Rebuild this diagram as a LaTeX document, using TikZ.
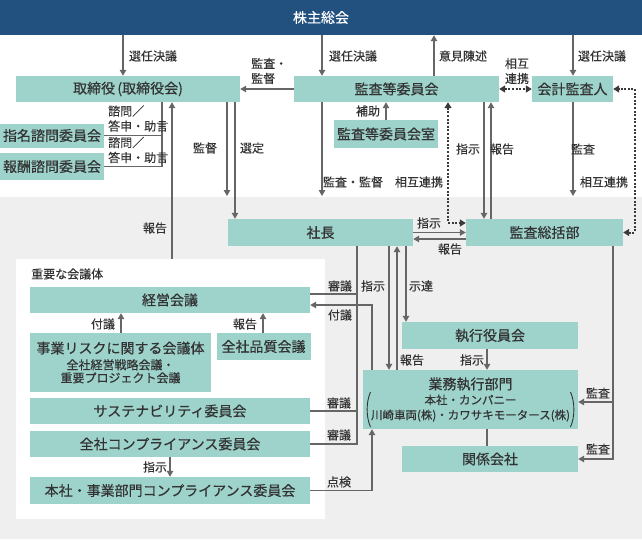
\documentclass[tikz,border=0pt]{standalone}
\usepackage{fontspec}
\setmainfont{Noto Sans CJK JP}
\newfontfamily\boxjp[FakeBold=0.5]{Noto Sans CJK JP}
\newfontfamily\lbljp[FakeBold=0.2]{Noto Sans CJK JP}
\usetikzlibrary{arrows.meta}
\definecolor{teal1}{HTML}{9DD3CB}
\definecolor{navy1}{HTML}{22507F}
\definecolor{bg1}{HTML}{EFEFEF}
\definecolor{ln1}{HTML}{666666}
\definecolor{tx1}{HTML}{333333}
\definecolor{dt1}{HTML}{3A3A3A}
\begin{document}
\begin{tikzpicture}[x=1pt,y=-1pt,
  box/.style={fill=teal1, inner sep=0pt, text=tx1, font=\boxjp\fontsize{14}{17}\selectfont, align=center},
  lbl/.style={inner sep=0pt, text=tx1, font=\lbljp\fontsize{12}{15}\selectfont, align=center},
  con/.style={draw=ln1, line width=1.2pt},
  tip/.style={-{Triangle[width=6.5pt,length=6pt]}},
  arr/.style={con, tip},
  dotl/.style={draw=dt1, line width=2pt, dash pattern=on 2pt off 1.6pt,
     {Triangle[width=7pt,length=6pt]}-{Triangle[width=7pt,length=6pt]}},
  dotr/.style={draw=dt1, line width=2pt, dash pattern=on 2pt off 1.6pt}
  ]
\useasboundingbox (0,0) rectangle (642,539);
% backgrounds
\fill[bg1] (0,197) rectangle (642,539);
\node[fill=white, inner sep=0pt, minimum width=309pt, minimum height=260pt] (jbox) at (170.5,389) {};

% column / helper coordinates
\coordinate (xA) at (123,0);
\coordinate (xB) at (322,0);
\coordinate (xC) at (434,0);
\coordinate (xD) at (573,0);
\coordinate (xE) at (172,0);
\coordinate (xF) at (227,0);
\coordinate (xG) at (235,0);
\coordinate (xJ) at (484,0);
\coordinate (xK) at (491,0);
\coordinate (xL) at (635,0);
\coordinate (xM) at (357,0);
\coordinate (xN) at (372,0);
\coordinate (xO) at (389,0);
\coordinate (xP) at (397,0);
\coordinate (xQ) at (406,0);
\coordinate (xR) at (487,0);
\coordinate (xS) at (613,0);
\coordinate (xT) at (162,0);
\coordinate (xU) at (121,0);
\coordinate (xV) at (263,0);
\coordinate (xW) at (170,0);
\coordinate (gtop) at (0,196);
\coordinate (p1) at (357,294);
\coordinate (p2) at (372,305);
\coordinate (p3) at (613,402);
\coordinate (p4) at (448,223);

% nodes
\node[box, fill=navy1, text=white, minimum width=642pt, minimum height=35pt] (sh) at (321,17.5) {株主総会};
\node[box, minimum width=224pt, minimum height=26pt] (tori) at (128,89) {取締役\,(取締役会)};
\node[box, minimum width=104pt, minimum height=24pt] (shimei) at (52,135.5) {指名諮問委員会};
\node[box, minimum width=104pt, minimum height=27pt] (housyu) at (52,166.5) {報酬諮問委員会};
\node[box, minimum width=205pt, minimum height=26pt] (kansa) at (396.5,89) {監査等委員会};
\node[box, minimum width=81pt, minimum height=26pt] (kaikei) at (572.5,89) {会計監査人};
\node[box, minimum width=104pt, minimum height=28pt] (kshitsu) at (386,134) {監査等委員会室};
\node[box, minimum width=185pt, minimum height=27pt] (shacho) at (320.5,232.5) {社長};
\node[box, minimum width=157pt, minimum height=27pt] (kansatsu) at (544.5,232.5) {監査総括部};
\node[box, minimum width=176pt, minimum height=27pt] (shikko) at (490,335.5) {執行役員会};
\node[box, minimum width=215pt, minimum height=59pt, font=\boxjp\fontsize{14}{15}\selectfont] (gyomu) at (470.5,399.5)
  {業務執行部門\\{\fontsize{11.5}{13}\selectfont 本社・カンパニー}\\{\fontsize{11.5}{13}\selectfont 川崎車両(株)・カワサキモータース(株)}};
\node[box, minimum width=176pt, minimum height=26pt] (kankei) at (490,459) {関係会社};
\node[box, minimum width=280pt, minimum height=26pt] (keiei) at (170,300) {経営会議};
\node[box, minimum width=181pt, minimum height=59pt, font=\boxjp\fontsize{14}{13}\selectfont] (jigyo) at (120.5,362.5)
  {事業リスクに関する会議体\\[3pt]{\fontsize{12}{13}\selectfont 全社経営戦略会議・}\\{\fontsize{12}{13}\selectfont 重要プロジェクト会議}};
\node[box, minimum width=94pt, minimum height=27pt] (hinshitsu) at (263.5,346.5) {全社品質会議};
\node[box, minimum width=280pt, minimum height=26pt] (sustain) at (170,411) {サステナビリティ委員会};
\node[box, minimum width=280pt, minimum height=26pt] (zencomp) at (170,444) {全社コンプライアンス委員会};
\node[box, minimum width=280pt, minimum height=27pt] (honsha) at (170,490.5) {本社・事業部門コンプライアンス委員会};

% big parentheses of 業務執行部門
\draw[tx1, line width=0.9pt] (370.5,392) .. controls (366,402) and (366,417) .. (370.5,427);
\draw[tx1, line width=0.9pt] (570.5,392) .. controls (575,402) and (575,417) .. (570.5,427);

% connectors: top
\draw[arr] (sh.south -| xA) -- (tori.north -| xA);
\draw[arr] (sh.south -| xB) -- (kansa.north -| xB);
\draw[arr] (kansa.north -| xC) -- (sh.south -| xC);
\draw[arr] (sh.south -| xD) -- (kaikei.north -| xD);
\draw[arr] (kansa.west) -- (tori.east);
\draw[dotl] (kansa.east) -- (kaikei.west);
\draw[arr] (kshitsu.north) -- (kansa.south -| kshitsu.north);
\draw[con] (tori.south -| xT) -- (xT |- housyu.east) -- (housyu.east);
\draw[con] (shimei.east) -- (shimei.east -| xT);
\draw[arr] (tori.south -| xF) -- (gtop -| xF);
\draw[arr] (tori.south -| xG) -- (shacho.north -| xG);
\draw[arr] (jbox.north -| xE) -- (tori.south -| xE);
\draw[arr] (kansa.south -| xB) -- (gtop -| xB);
\draw[dotr, {Triangle[width=7pt,length=6pt]}-] (kansa.south -| p4) -- (p4);
\draw[dotr, -{Triangle[width=7pt,length=6pt]}] (p4) -- (kansatsu.west |- p4);
\draw[arr] (kansa.south -| xJ) -- (kansatsu.north -| xJ);
\draw[arr] (kansatsu.north -| xK) -- (kansa.south -| xK);
\draw[arr] (kaikei.south -| xD) -- (gtop -| xD);
\draw[dotl] (kansatsu.east) -- (kansatsu.east -| xL) -- (xL |- kaikei.east) -- (kaikei.east);
\draw[arr] (shacho.east) -- (kansatsu.west);
\draw[arr] ([yshift=-6.5pt]kansatsu.west) -- ([yshift=-6.5pt]shacho.east);

% connectors: execution side
\draw[con] (shacho.south -| xM) -- (xM |- zencomp.east) -- (zencomp.east);
\draw[con] (keiei.east |- p1) -- (p1);
\draw[con] (sustain.east) -- (sustain.east -| xM);
\draw[arr] (gyomu.north -| p2) -- (p2) -- (keiei.east |- p2);
\draw[arr] (honsha.east) -- (honsha.east -| xN) -- (gyomu.south -| xN);
\draw[arr] (shacho.south -| xO) -- (gyomu.north -| xO);
\draw[arr] (gyomu.north -| xP) -- (shacho.south -| xP);
\draw[arr] (shacho.south -| xQ) -- (shikko.north -| xQ);
\draw[arr] (shikko.south -| xR) -- (gyomu.north -| xR);
\draw[con] (gyomu.south -| xR) -- (kankei.north -| xR);
\draw[arr] (kansatsu.south -| xS) -- (xS |- kankei.east) -- (kankei.east);
\draw[arr] (p3) -- (gyomu.east |- p3);
\draw[arr] (jigyo.north -| xU) -- (keiei.south -| xU);
\draw[arr] (hinshitsu.north -| xV) -- (keiei.south -| xV);
\draw[arr] (zencomp.south -| xW) -- (honsha.north -| xW);

% labels
\node[lbl] (l1) at (153,56) {選任決議};
\node[lbl] (l2) at (353,56) {選任決議};
\node[lbl] (l3) at (463,56) {意見陳述};
\node[lbl] (l4) at (517,71) {相互\\連携};
\node[lbl] (l5) at (602,56) {選任決議};
\node[lbl, align=left, anchor=west] (l6) at (251,71) {監査・\\監督};
\node[lbl] (l7) at (368,111) {補助};
\node[lbl, align=left, anchor=west] (l8) at (108,118.5) {諮問／\\答申・助言};
\node[lbl, align=left, anchor=west] (l9) at (108,150) {諮問／\\答申・助言};
\node[lbl] (l10) at (205,148) {監督};
\node[lbl] (l11) at (252,148) {選定};
\node[lbl] (l12) at (468,149) {指示};
\node[lbl] (l13) at (502,149) {報告};
\node[lbl] (l14) at (583,149) {監査};
\node[lbl] (l15) at (353,182) {監査・監督};
\node[lbl] (l16) at (419,182) {相互連携};
\node[lbl] (l17) at (604,182) {相互連携};
\node[lbl] (l18) at (155,228) {報告};
\node[lbl] (l19) at (429,223) {指示};
\node[lbl] (l20) at (450,249) {報告};
\node[lbl, anchor=west] (l21) at (31,274) {重要な会議体};
\node[lbl] (l22) at (103,324) {付議};
\node[lbl] (l23) at (245,324) {報告};
\node[lbl] (l24) at (340,286) {審議};
\node[lbl] (l25) at (340,315) {付議};
\node[lbl] (l26) at (373,286) {指示};
\node[lbl] (l27) at (421,286) {示達};
\node[lbl] (l28) at (412,360) {報告};
\node[lbl] (l29) at (472,360) {指示};
\node[lbl] (l30) at (339,403) {審議};
\node[lbl] (l31) at (339,435) {審議};
\node[lbl] (l32) at (339,482) {点検};
\node[lbl] (l33) at (598,393) {監査};
\node[lbl] (l34) at (598,449) {監査};
\node[lbl] (l35) at (155,467) {指示};
\end{tikzpicture}
\end{document}
